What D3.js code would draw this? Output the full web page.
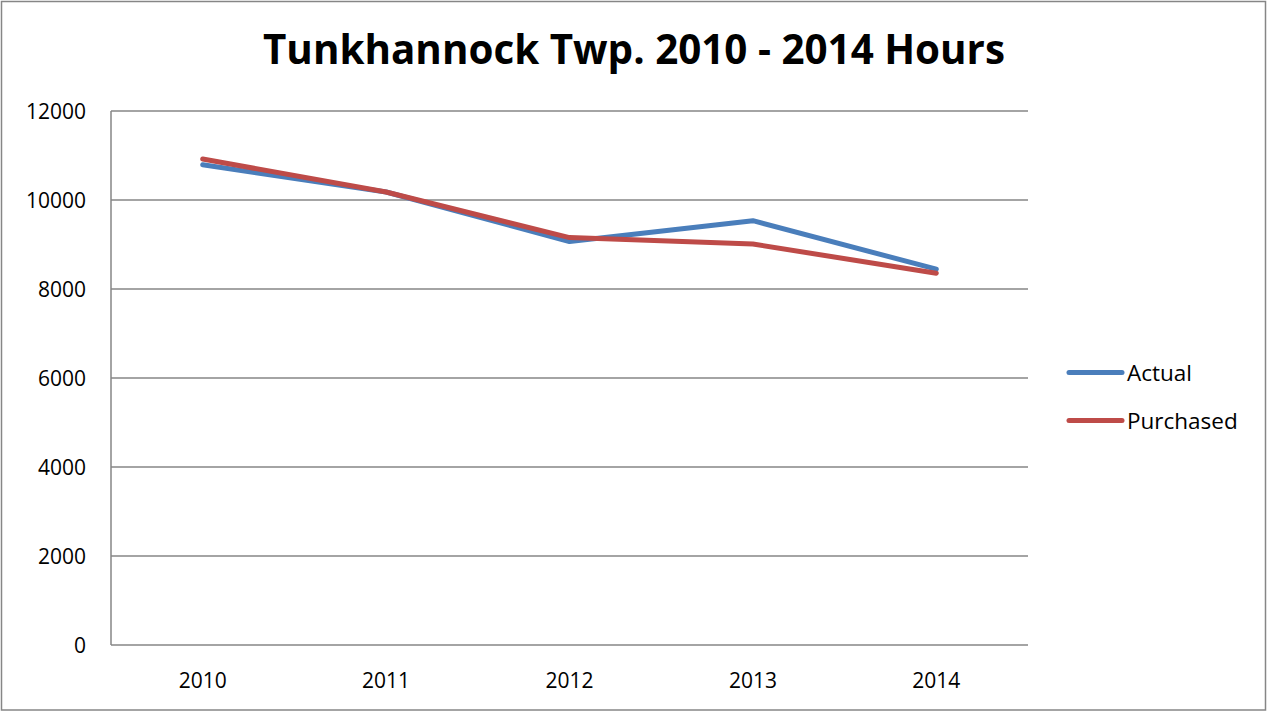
<!DOCTYPE html>
<html>
<head>
<meta charset="utf-8">
<script src="https://cdn.jsdelivr.net/npm/d3@7"></script>
<style>
  body { margin: 0; background: #fff; }
  svg { display: block; font-family: "Open Sans", "Liberation Sans", sans-serif; }
</style>
</head>
<body>
<div id="chart"></div>
<script>
// Chart data
var years = ["2010", "2011", "2012", "2013", "2014"];
var actual = [10790, 10180, 9065, 9535, 8445];
var purchased = [10920, 10180, 9155, 9010, 8355];
var yTicks = [0, 2000, 4000, 6000, 8000, 10000, 12000];
var seriesNames = ["Actual", "Purchased"];
var seriesColors = ["#4a7ebb", "#be4b48"];

var W = 1267, H = 712;
var plot = {left: 111, right: 1028, top: 111, bottom: 645};

var svg = d3.select("#chart").append("svg")
  .attr("width", W).attr("height", H);

// Outer frame
svg.append("rect")
  .attr("x", 1.5).attr("y", 1.5)
  .attr("width", W - 3).attr("height", H - 3.5)
  .attr("fill", "#fff").attr("stroke", "#868686").attr("stroke-width", 1.5);

var x = d3.scaleBand().domain(years).range([plot.left, plot.right]);
var y = d3.scaleLinear().domain([0, 12000]).range([plot.bottom, plot.top]);

// Gridlines
svg.append("g").selectAll("line")
  .data(yTicks.filter(d => d > 0))
  .enter().append("line")
  .attr("x1", plot.left).attr("x2", plot.right)
  .attr("y1", d => y(d)).attr("y2", d => y(d))
  .attr("stroke", "#868686").attr("stroke-width", 1.5);

// Axes lines
svg.append("line")
  .attr("x1", plot.left).attr("x2", plot.left)
  .attr("y1", plot.top).attr("y2", plot.bottom)
  .attr("stroke", "#868686").attr("stroke-width", 1.5);
svg.append("line")
  .attr("x1", plot.left).attr("x2", plot.right)
  .attr("y1", plot.bottom).attr("y2", plot.bottom)
  .attr("stroke", "#868686").attr("stroke-width", 1.5);

// Y tick labels
svg.append("g").selectAll("text")
  .data(yTicks)
  .enter().append("text")
  .attr("x", 86)
  .attr("y", d => y(d) + 8)
  .attr("text-anchor", "end")
  .attr("font-size", 21)
  .attr("fill", "#000")
  .text(d => d);

// X tick labels
svg.append("g").selectAll("text")
  .data(years)
  .enter().append("text")
  .attr("x", d => x(d) + x.bandwidth() / 2)
  .attr("y", 688)
  .attr("text-anchor", "middle")
  .attr("font-size", 21)
  .attr("fill", "#000")
  .text(d => d);

// Lines
var line = d3.line()
  .x((d, i) => x(years[i]) + x.bandwidth() / 2)
  .y(d => y(d));

[actual, purchased].forEach(function(vals, k) {
  svg.append("path")
    .datum(vals)
    .attr("d", line)
    .attr("fill", "none")
    .attr("stroke", seriesColors[k])
    .attr("stroke-width", 5)
    .attr("stroke-linejoin", "round")
    .attr("stroke-linecap", "round");
});

// Legend
var legend = svg.append("g").selectAll("g")
  .data(seriesNames)
  .enter().append("g")
  .attr("transform", (d, i) => "translate(0," + (372.5 + i * 48) + ")");
legend.append("line")
  .attr("x1", 1069).attr("x2", 1122)
  .attr("stroke", (d, i) => seriesColors[i])
  .attr("stroke-width", 5)
  .attr("stroke-linecap", "round");
legend.append("text")
  .attr("x", 1127).attr("y", 8)
  .attr("font-size", 22.5)
  .attr("fill", "#000")
  .text(d => d);

// Title
svg.append("text")
  .attr("x", 634).attr("y", 64)
  .attr("text-anchor", "middle")
  .attr("font-size", 41)
  .attr("font-weight", "bold")
  .attr("textLength", 742)
  .attr("lengthAdjust", "spacingAndGlyphs")
  .attr("fill", "#000")
  .text("Tunkhannock Twp. 2010 - 2014 Hours");
</script>
</body>
</html>
